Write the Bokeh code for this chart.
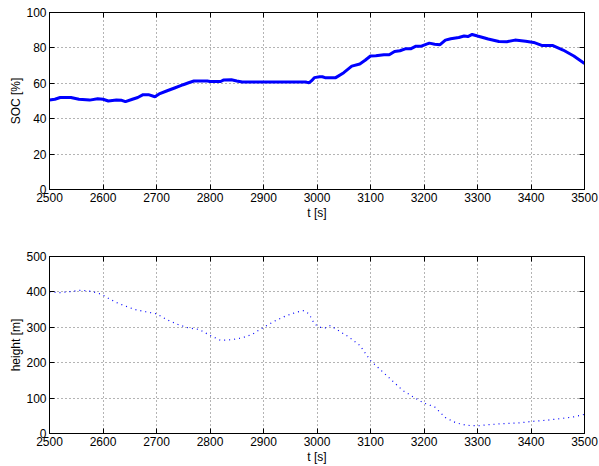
from bokeh.plotting import figure
from bokeh.models import Range1d, LinearAxis, FixedTicker
from bokeh.layouts import column
from bokeh.embed import file_html
from bokeh.resources import INLINE

# SOC data
soc_t = [2500, 2510, 2520, 2540, 2555, 2575, 2590, 2600, 2610, 2625, 2635, 2642, 2655, 2665, 2675,
         2685, 2697, 2705, 2720, 2735, 2750, 2760, 2770, 2795, 2800, 2820, 2825, 2840, 2850, 2860,
         2900, 2950, 2980, 2985, 2990, 2995, 3005, 3010, 3015, 3035, 3050, 3065, 3080, 3090, 3100,
         3110, 3125, 3135, 3145, 3155, 3165, 3175, 3185, 3195, 3210, 3220, 3230, 3240, 3250, 3265,
         3275, 3282, 3290, 3300, 3320, 3340, 3355, 3370, 3390, 3405, 3420, 3440, 3460, 3480, 3500]
soc_v = [50.6, 51.0, 52.0, 52.0, 51.0, 50.5, 51.3, 51.0, 50.0, 50.5, 50.4, 49.6, 51.0, 52.0, 53.6,
         53.6, 52.4, 54.0, 55.8, 57.5, 59.2, 60.3, 61.3, 61.3, 61.0, 61.0, 61.8, 62.0, 61.3, 60.7,
         60.7, 60.7, 60.7, 60.2, 61.5, 63.2, 63.7, 63.7, 63.2, 63.2, 66.0, 69.7, 70.9, 73.0, 75.4,
         75.6, 76.1, 76.1, 78.0, 78.4, 79.5, 79.5, 81.0, 81.0, 82.7, 82.1, 81.8, 84.4, 85.2, 85.9,
         86.7, 86.4, 87.6, 86.7, 85.0, 83.6, 83.5, 84.4, 83.8, 83.1, 81.4, 81.4, 78.8, 75.4, 71.2]

# height data
h_t = [2500, 2520, 2540, 2560, 2575, 2590, 2600, 2610, 2625, 2640, 2660, 2680, 2700, 2720, 2740,
       2760, 2780, 2800, 2820, 2840, 2860, 2880, 2900, 2920, 2940, 2960, 2975, 2985, 2995, 3005,
       3015, 3025, 3040, 3060, 3080, 3100, 3120, 3140, 3160, 3180, 3200, 3220, 3240, 3260, 3280,
       3300, 3320, 3350, 3380, 3400, 3430, 3460, 3480, 3500]
h_v = [400, 398, 401, 405, 402, 397, 391, 382, 370, 361, 350, 344, 338, 321, 308,
       298, 294, 277, 263, 265, 270, 281, 300, 317, 331, 342, 347, 338, 310, 300,
       298, 305, 291, 272, 249, 206, 178, 150, 122, 103, 86, 75, 45, 30, 23,
       21.6, 25, 28, 30, 34, 37.5, 43, 47, 54]

x_ticks = [2500, 2600, 2700, 2800, 2900, 3000, 3100, 3200, 3300, 3400, 3500]
soc_ticks = [0, 20, 40, 60, 80, 100]
h_ticks = [0, 100, 200, 300, 400, 500]

FONT = "Liberation Sans"
FS = "12px"


def style(p, yticks, ylabel):
    p.xaxis.ticker = FixedTicker(ticks=x_ticks)
    p.yaxis.ticker = FixedTicker(ticks=yticks)
    for ax in (p.xaxis[0], p.yaxis[0]):
        ax.major_tick_in = 5
        ax.major_tick_out = 0
        ax.minor_tick_in = 0
        ax.minor_tick_out = 0
        ax.axis_line_color = "black"
        ax.major_tick_line_color = "black"
        ax.major_label_text_font = FONT
        ax.major_label_text_font_size = FS
        ax.major_label_text_color = "black"
        ax.axis_label_text_font = FONT
        ax.axis_label_text_font_size = FS
        ax.axis_label_text_font_style = "normal"
        ax.axis_label_text_color = "black"
        ax.major_label_standoff = 3
        ax.axis_label_standoff = 1
    p.yaxis[0].axis_label_standoff = 0
    p.xaxis.axis_label = "t [s]"
    p.yaxis.axis_label = ylabel
    # mirrored axes (ticks only, no labels drawn)
    for loc, ticks in (("right", yticks), ("above", x_ticks)):
        ax = LinearAxis(ticker=FixedTicker(ticks=ticks), major_label_text_font_size="0px",
                        major_label_text_color=None,
                        major_tick_in=5, major_tick_out=0, minor_tick_in=0, minor_tick_out=0,
                        major_label_standoff=0, axis_line_color="black")
        p.add_layout(ax, loc)
    for g in (p.xgrid[0], p.ygrid[0]):
        g.grid_line_color = "#444444"
        g.grid_line_dash = "1 3"
        g.grid_line_alpha = 0.8
    p.outline_line_color = "black"
    p.outline_line_alpha = 1.0
    p.background_fill_color = "white"
    p.border_fill_color = "white"


p1 = figure(width=599, height=233, output_backend="svg", toolbar_location=None,
            x_range=Range1d(2500, 3500), y_range=Range1d(0, 100),
            min_border_left=49, min_border_right=15, min_border_top=12, min_border_bottom=44)
style(p1, soc_ticks, "SOC [%]")
p1.line(soc_t, soc_v, line_color="blue", line_width=3)

p2 = figure(width=599, height=233, output_backend="svg", toolbar_location=None,
            x_range=Range1d(2500, 3500), y_range=Range1d(0, 500),
            min_border_left=49, min_border_right=15, min_border_top=23, min_border_bottom=10)
style(p2, h_ticks, "height [m]")
p2.line(h_t, h_v, line_color="blue", line_width=1.2, line_dash="1 4")

layout = column(p1, p2, spacing=0)
open("out.html", "w").write(file_html(layout, INLINE))
